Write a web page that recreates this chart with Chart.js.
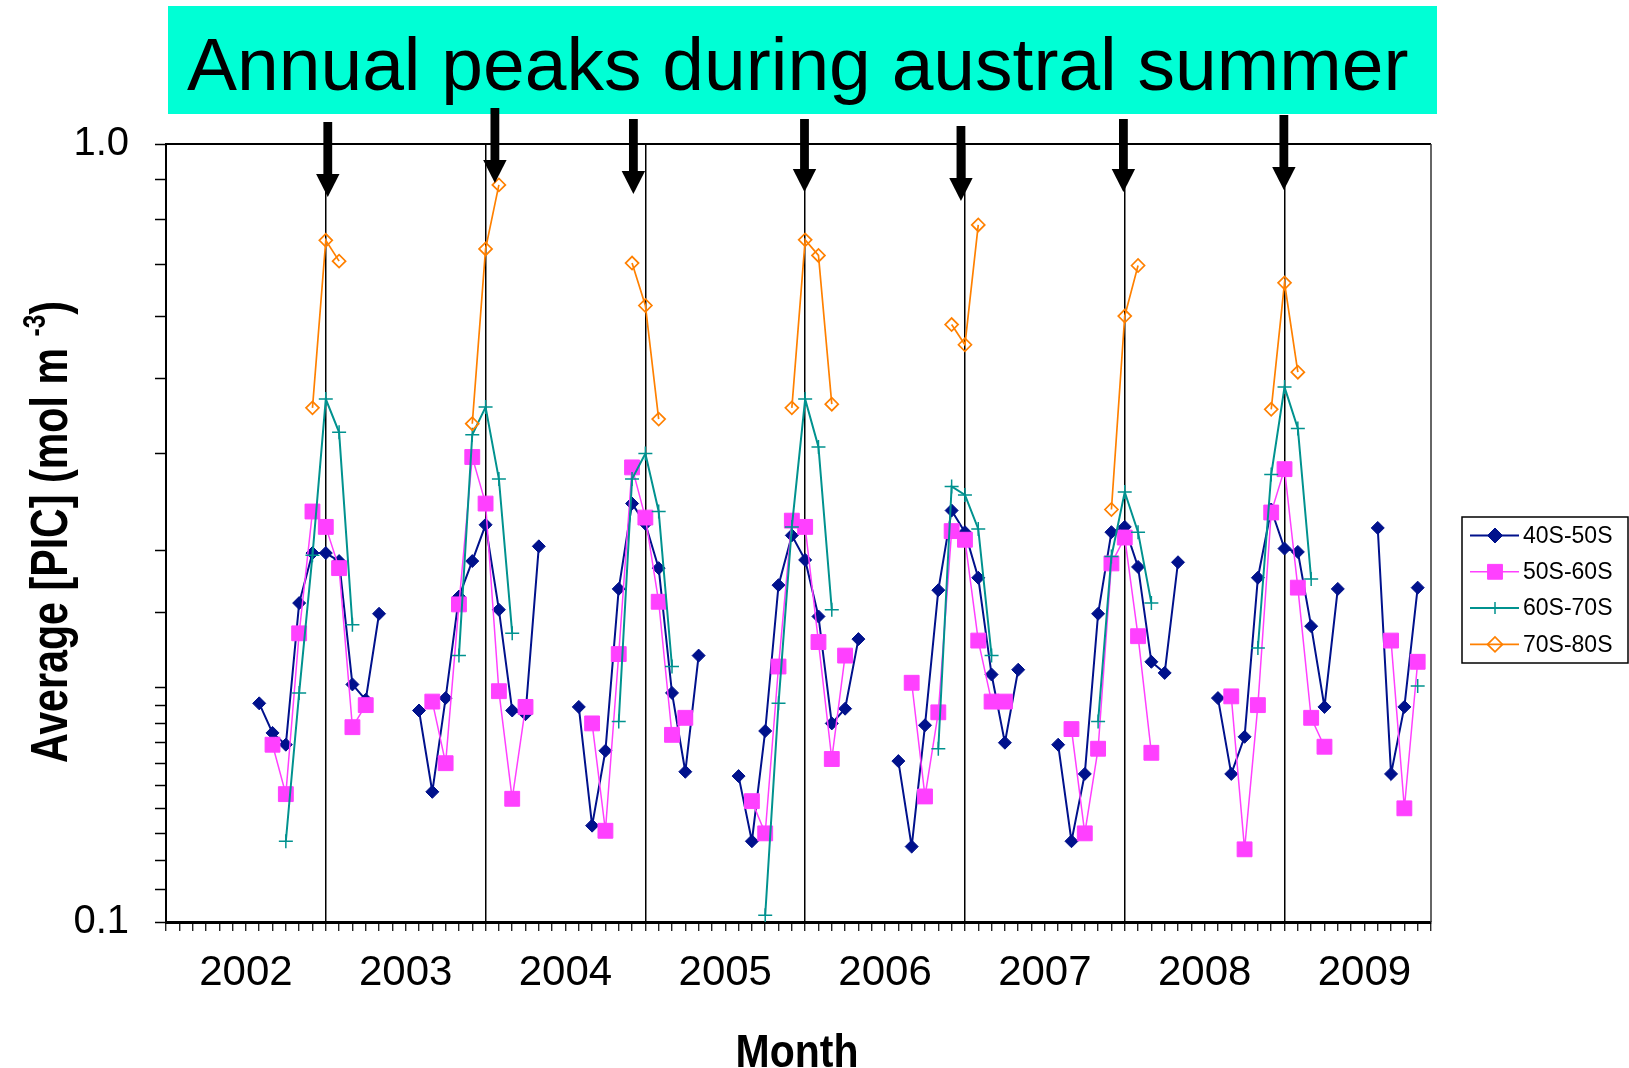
<!DOCTYPE html>
<html>
<head>
<meta charset="utf-8">
<title>Average PIC 2002-2009</title>
<script src="https://cdn.jsdelivr.net/npm/chart.js@4.4.1/dist/chart.umd.min.js"></script>
<style>
  html, body { margin: 0; padding: 0; background: #fff; }
  #wrap { position: relative; width: 1629px; height: 1068px; }
</style>
</head>
<body>
<div id="wrap"><canvas id="canvas"></canvas></div>
<script>
var years = [2002, 2003, 2004, 2005, 2006, 2007, 2008, 2009];
var monthNames = ['Jan', 'Feb', 'Mar', 'Apr', 'May', 'Jun', 'Jul', 'Aug', 'Sep', 'Oct', 'Nov', 'Dec'];
var seriesNames = ['40S-50S', '50S-60S', '60S-70S', '70S-80S'];

// monthly average PIC (mol m-3), one row per year Jan..Dec, null = no data
var pic40to50 = [
  null, null, null, null, null, null, null, 0.191, 0.175, 0.169, 0.257, 0.298,
  0.298, 0.291, 0.202, 0.193, 0.249, null, null, 0.187, 0.147, 0.194, 0.262, 0.291,
  0.324, 0.252, 0.187, 0.185, 0.304, null, null, 0.189, 0.133, 0.166, 0.268, 0.345,
  0.325, 0.285, 0.197, 0.156, 0.220, null, null, 0.154, 0.127, 0.176, 0.271, 0.314,
  0.292, 0.247, 0.180, 0.188, 0.231, null, null, 0.161, 0.125, 0.179, 0.267, 0.338,
  0.317, 0.277, 0.208, 0.170, 0.211, null, null, 0.169, 0.127, 0.155, 0.249, 0.317,
  0.322, 0.286, 0.216, 0.209, 0.290, null, null, 0.194, 0.155, 0.173, 0.277, 0.339,
  0.302, 0.299, 0.240, 0.189, 0.268, null, null, 0.321, 0.155, 0.189, 0.269, null
];
var pic50to60 = [
  null, null, null, null, null, null, null, null, 0.169, 0.146, 0.235, 0.337,
  0.322, 0.285, 0.178, 0.190, null, null, null, null, 0.192, 0.160, 0.256, 0.396,
  0.345, 0.198, 0.144, 0.189, null, null, null, null, 0.180, 0.131, 0.221, 0.384,
  0.331, 0.258, 0.174, 0.183, null, null, null, null, 0.143, 0.130, 0.213, 0.328,
  0.322, 0.229, 0.162, 0.220, null, null, null, null, 0.203, 0.145, 0.186, 0.318,
  0.310, 0.230, 0.192, 0.192, null, null, null, null, 0.177, 0.130, 0.167, 0.289,
  0.312, 0.233, 0.165, null, null, null, null, null, 0.195, 0.124, 0.190, 0.336,
  0.382, 0.269, 0.183, 0.168, null, null, null, null, 0.230, 0.140, 0.216, null
];
var pic60to70 = [
  null, null, null, null, null, null, null, null, null, 0.127, 0.197, 0.296,
  0.470, 0.426, 0.241, null, null, null, null, null, null, null, 0.220, 0.423,
  0.459, 0.371, 0.235, null, null, null, null, null, null, null, 0.181, 0.371,
  0.400, 0.337, 0.213, null, null, null, null, null, null, 0.102, 0.191, 0.322,
  0.470, 0.408, 0.252, null, null, null, null, null, null, null, 0.167, 0.363,
  0.354, 0.320, 0.220, null, null, null, null, null, null, null, 0.181, 0.295,
  0.357, 0.317, 0.257, null, null, null, null, null, null, null, 0.225, 0.376,
  0.487, 0.431, 0.276, null, null, null, null, null, null, null, 0.201, null
];
var pic70to80 = [
  null, null, null, null, null, null, null, null, null, null, null, 0.458,
  0.752, 0.707, null, null, null, null, null, null, null, null, null, 0.437,
  0.733, 0.886, null, null, null, null, null, null, null, null, null, 0.703,
  0.620, 0.443, null, null, null, null, null, null, null, null, null, 0.458,
  0.753, 0.719, 0.463, null, null, null, null, null, null, null, null, 0.586,
  0.552, 0.787, null, null, null, null, null, null, null, null, null, 0.339,
  0.601, 0.698, null, null, null, null, null, null, null, null, null, 0.456,
  0.663, 0.509, null, null, null, null, null, null, null, null, null, null
];

// arrows over each January line: position in months, top and tip offsets from the plot top
var summerArrows = [
  { at: 12.15, top: -22, tip: 53 },
  { at: 24.7, top: -36, tip: 39 },
  { at: 35.1, top: -25, tip: 50 },
  { at: 47.95, top: -25, tip: 48 },
  { at: 59.7, top: -18, tip: 57 },
  { at: 71.9, top: -25, tip: 48 },
  { at: 83.95, top: -29, tip: 46 }
];

var months = [];
years.forEach(function(y) {
  monthNames.forEach(function(m) { months.push(m + ' ' + y); });
});

var fontFamily = '"Liberation Sans", Arial, Helvetica, sans-serif';
Chart.defaults.font.family = fontFamily;
Chart.defaults.color = '#000';

// title banner behind the chart
var bannerPlugin = {
  id: 'banner',
  beforeDraw: function(chart) {
    var ctx = chart.ctx;
    ctx.save();
    ctx.fillStyle = '#00FFD5';
    ctx.fillRect(168, 6, 1269, 108);
    ctx.fillStyle = '#000';
    ctx.font = '75px ' + fontFamily;
    ctx.textBaseline = 'alphabetic';
    ctx.textAlign = 'left';
    ctx.fillText('Annual peaks during austral summer', 187, 90);
    ctx.restore();
  }
};

// top and right edges of the plot box
var framePlugin = {
  id: 'frame',
  beforeDatasetsDraw: function(chart) {
    var a = chart.chartArea, ctx = chart.ctx;
    ctx.save();
    ctx.strokeStyle = '#000';
    ctx.lineWidth = 2;
    ctx.beginPath();
    ctx.moveTo(a.left, a.top);
    ctx.lineTo(a.right, a.top);
    ctx.stroke();
    ctx.lineWidth = 1.5;
    ctx.strokeStyle = '#333';
    ctx.beginPath();
    ctx.moveTo(a.right, a.top);
    ctx.lineTo(a.right, a.bottom);
    ctx.stroke();
    ctx.restore();
  }
};

// axis titles, legend box and arrows
var overlayPlugin = {
  id: 'overlay',
  afterDraw: function(chart) {
    var ctx = chart.ctx, a = chart.chartArea, xs = chart.scales.x;

    // arrows
    ctx.save();
    ctx.fillStyle = '#000';
    summerArrows.forEach(function(ar) {
      var x = xs.getPixelForValue(ar.at);
      var top = a.top + ar.top, tip = a.top + ar.tip, head = 23;
      ctx.fillRect(x - 4.4, top, 8.8, tip - head - top + 1);
      ctx.beginPath();
      ctx.moveTo(x - 11.7, tip - head);
      ctx.lineTo(x + 11.7, tip - head);
      ctx.lineTo(x, tip);
      ctx.closePath();
      ctx.fill();
    });
    ctx.restore();

    // x axis title
    ctx.save();
    ctx.font = 'bold 46px ' + fontFamily;
    var w = ctx.measureText('Month').width;
    ctx.translate(797, 1067);
    ctx.scale(123 / w, 1);
    ctx.textAlign = 'center';
    ctx.textBaseline = 'alphabetic';
    ctx.fillText('Month', 0, 0);
    ctx.restore();

    // y axis title with superscript
    ctx.save();
    var big = 'bold 52px ' + fontFamily, small = 'bold 31px ' + fontFamily;
    ctx.font = big;
    var w1 = ctx.measureText('Average [PIC] (mol m ').width;
    var w3 = ctx.measureText(')').width;
    ctx.font = small;
    var w2 = ctx.measureText('-3').width;
    var s = 462 / (w1 + w2 + w3);
    ctx.translate(67, 763);
    ctx.rotate(-Math.PI / 2);
    ctx.scale(s, 1);
    ctx.textBaseline = 'alphabetic';
    ctx.textAlign = 'left';
    ctx.font = big;
    ctx.fillText('Average [PIC] (mol m ', 0, 0);
    ctx.font = small;
    ctx.fillText('-3', w1, -22);
    ctx.font = big;
    ctx.fillText(')', w1 + w2, 0);
    ctx.restore();

    // legend
    ctx.save();
    var lx = 1462, ly = 517, lw = 166, lh = 146;
    ctx.fillStyle = '#fff';
    ctx.fillRect(lx, ly, lw, lh);
    ctx.strokeStyle = '#000';
    ctx.lineWidth = 1.5;
    ctx.strokeRect(lx, ly, lw, lh);
    ctx.font = '23px ' + fontFamily;
    ctx.textBaseline = 'middle';
    ctx.textAlign = 'left';
    chart.data.datasets.forEach(function(ds, i) {
      var y = ly + 18.5 + i * 36.3;
      ctx.strokeStyle = ds.borderColor;
      ctx.lineWidth = ds.borderWidth;
      ctx.beginPath();
      ctx.moveTo(lx + 8, y);
      ctx.lineTo(lx + 57, y);
      ctx.stroke();
      ctx.fillStyle = ds.pointBackgroundColor;
      ctx.strokeStyle = ds.borderColor;
      ctx.lineWidth = ds.pointBorderWidth;
      Chart.helpers.drawPoint(ctx, {
        pointStyle: ds.pointStyle,
        radius: ds.legendRadius,
        rotation: 0,
        borderWidth: ds.pointBorderWidth
      }, lx + 33, y);
      ctx.fillStyle = '#000';
      ctx.fillText(ds.label, lx + 61, y + 1);
    });
    ctx.restore();
  }
};

var ctx = document.getElementById('canvas').getContext('2d');

window.picChart = new Chart(ctx, {
  type: 'line',
  data: {
    labels: months,
    datasets: [{
      label: seriesNames[0],
      data: pic40to50,
      borderColor: '#00118C',
      backgroundColor: '#00118C',
      pointBackgroundColor: '#00118C',
      borderWidth: 2,
      pointStyle: 'rectRot',
      pointRadius: 6.5,
      legendRadius: 7.5,
      pointBorderWidth: 1,
      order: 4
    }, {
      label: seriesNames[1],
      data: pic50to60,
      borderColor: '#FF40FF',
      backgroundColor: '#FF40FF',
      pointBackgroundColor: '#FF40FF',
      borderWidth: 1.5,
      pointStyle: 'rect',
      pointRadius: 10.5,
      legendRadius: 10.5,
      pointBorderWidth: 1,
      order: 3
    }, {
      label: seriesNames[2],
      data: pic60to70,
      borderColor: '#00928F',
      backgroundColor: '#00928F',
      pointBackgroundColor: '#00928F',
      borderWidth: 2,
      pointStyle: 'cross',
      pointRadius: 7,
      legendRadius: 6,
      pointBorderWidth: 1.5,
      order: 2
    }, {
      label: seriesNames[3],
      data: pic70to80,
      borderColor: '#FF8000',
      backgroundColor: 'rgba(0,0,0,0)',
      pointBackgroundColor: 'rgba(0,0,0,0)',
      borderWidth: 1.7,
      pointStyle: 'rectRot',
      pointRadius: 6.5,
      legendRadius: 7.5,
      pointBorderWidth: 1.7,
      order: 1
    }]
  },
  options: {
    responsive: true,
    maintainAspectRatio: false,
    animation: false,
    events: [],
    spanGaps: false,
    layout: { padding: { top: 144, right: 198, left: 0, bottom: 0 } },
    elements: { line: { tension: 0 } },
    plugins: {
      legend: { display: false },
      title: { display: false },
      tooltip: { enabled: false }
    },
    scales: {
      x: {
        type: 'category',
        offset: false,
        afterFit: function(scale) { scale.height = 146; },
        border: { display: true, color: '#000', width: 3 },
        grid: {
          offset: false,
          drawOnChartArea: true,
          drawTicks: true,
          tickLength: 9,
          tickColor: '#000',
          tickWidth: 1.2,
          color: function(c) { return c.index % 12 === 0 ? '#000' : 'rgba(0,0,0,0)'; },
          lineWidth: 1.5
        },
        ticks: {
          autoSkip: false,
          maxRotation: 0,
          minRotation: 0,
          padding: 17,
          font: { size: 42 },
          color: '#000',
          callback: function(val, i) {
            return i % 12 === 6 ? String(years[Math.floor(i / 12)]) : '';
          }
        }
      },
      y: {
        type: 'logarithmic',
        min: 0.1,
        max: 1,
        afterFit: function(scale) { scale.width = 166; },
        border: { display: true, color: '#000', width: 2 },
        grid: {
          drawOnChartArea: false,
          drawTicks: true,
          tickLength: 11,
          tickColor: '#000',
          tickWidth: 1.5
        },
        ticks: {
          autoSkip: false,
          padding: 26,
          font: { size: 40 },
          color: '#000',
          callback: function(v) {
            if (Math.abs(v - 1) < 1e-9) return '1.0';
            if (Math.abs(v - 0.1) < 1e-9) return '0.1';
            return '';
          }
        }
      }
    }
  },
  plugins: [bannerPlugin, framePlugin, overlayPlugin]
});
</script>
</body>
</html>
